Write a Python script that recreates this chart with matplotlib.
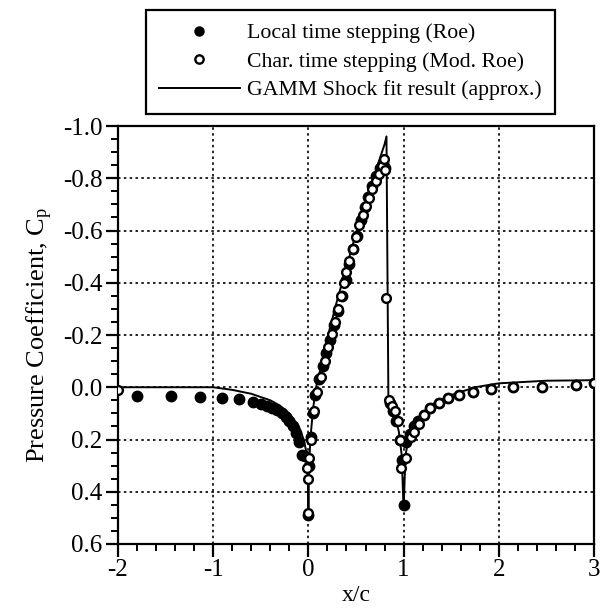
import numpy as np
import matplotlib
matplotlib.use("Agg")
import matplotlib.pyplot as plt
from matplotlib.lines import Line2D
from matplotlib.ticker import MultipleLocator, FormatStrFormatter

plt.rcParams['font.family'] = ['Liberation Serif', 'DejaVu Serif']
plt.rcParams['mathtext.fontset'] = 'custom'
plt.rcParams['mathtext.rm'] = 'Liberation Serif'
plt.rcParams['mathtext.it'] = 'Liberation Serif'

# GAMM shock fit curve (approx.)
gamm_x = [-2.0, -1.5, -1.0, -0.8, -0.6, -0.4, -0.3, -0.2, -0.1, -0.05, -0.02, -0.005,
          0.0, 0.005, 0.02, 0.05, 0.08, 0.12, 0.2, 0.3, 0.4, 0.5, 0.6, 0.7, 0.8, 0.82,
          0.84, 0.9, 0.95, 0.98, 1.0, 1.02, 1.05, 1.1, 1.2, 1.3, 1.5, 1.75, 2.0, 2.5, 3.0]
gamm_cp = [0.0, 0.0, 0.0, 0.01, 0.025, 0.05, 0.07, 0.1, 0.15, 0.2, 0.25, 0.33,
           0.5, 0.33, 0.2, 0.08, 0.0, -0.06, -0.19, -0.33, -0.46, -0.59, -0.71, -0.82, -0.93, -0.96,
           0.03, 0.09, 0.17, 0.26, 0.47, 0.26, 0.2, 0.15, 0.1, 0.065, 0.03, 0.0, -0.015, -0.025, -0.027]

# Local time stepping (Roe) - filled circles
roe_x = [-1.80, -1.44, -1.14, -0.91, -0.73, -0.585, -0.50, -0.44, -0.38, -0.33, -0.28,
         -0.24, -0.20, -0.16, -0.13, -0.10, -0.07, -0.04, 0.0,
         0.01, 0.03, 0.045, 0.07, 0.11, 0.15, 0.19, 0.23, 0.27, 0.31, 0.35, 0.39, 0.43,
         0.47, 0.51, 0.55, 0.59, 0.63, 0.67, 0.71, 0.75, 0.78, 0.80,
         0.86, 0.89, 0.92, 0.96, 0.98, 1.0, 1.03, 1.07, 1.11, 1.15, 1.21, 1.28, 1.37,
         1.47, 1.585, 1.73, 1.92, 2.15, 2.45, 2.81, 3.0]
roe_cp = [0.033, 0.033, 0.037, 0.04, 0.046, 0.056, 0.063, 0.07, 0.078, 0.088, 0.10,
          0.115, 0.13, 0.15, 0.175, 0.21, 0.26, 0.265, 0.49,
          0.30, 0.19, 0.10, 0.03, -0.03, -0.08, -0.13, -0.18, -0.24, -0.29, -0.35, -0.41, -0.47,
          -0.53, -0.58, -0.64, -0.69, -0.73, -0.77, -0.81, -0.84, -0.86, -0.84,
          0.06, 0.09, 0.13, 0.20, 0.28, 0.45, 0.21, 0.18, 0.15, 0.13, 0.107, 0.08, 0.062,
          0.043, 0.03, 0.018, 0.008, 0.0, 0.0, -0.01, -0.015]

# Characteristic time stepping (Mod. Roe) - open circles
mod_x = [-2.0, -0.01, 0.0, 0.0, 0.01, 0.03, 0.06, 0.09, 0.13, 0.17, 0.21, 0.25, 0.28,
         0.31, 0.34, 0.37, 0.40, 0.43, 0.47, 0.50, 0.53, 0.57, 0.60, 0.64, 0.67, 0.71,
         0.74, 0.77, 0.79, 0.80, 0.82, 0.85, 0.88, 0.91, 0.94, 0.96, 0.97, 1.02, 1.08,
         1.11, 1.16, 1.21, 1.28, 1.37, 1.47, 1.585, 1.73, 1.92, 2.15, 2.45, 2.81, 3.0]
mod_cp = [0.01, 0.31, 0.35, 0.48, 0.27, 0.20, 0.09, 0.02, -0.04, -0.10, -0.155, -0.205, -0.25,
          -0.30, -0.35, -0.40, -0.44, -0.485, -0.53, -0.575, -0.62, -0.66, -0.695, -0.725, -0.76, -0.79,
          -0.815, -0.845, -0.875, -0.83, -0.34, 0.05, 0.07, 0.09, 0.13, 0.20, 0.31, 0.27, 0.19,
          0.17, 0.14, 0.107, 0.08, 0.062, 0.043, 0.03, 0.018, 0.008, 0.0, 0.0, -0.01, -0.015]

fig = plt.figure(figsize=(6.07, 6.13), dpi=100)
ax = fig.add_axes([118 / 607, 1 - 544 / 613, 476 / 607, 418 / 613])

ax.plot(gamm_x, gamm_cp, color='black', lw=1.4, zorder=2)
ax.plot(roe_x, roe_cp, 'o', color='black', ms=7.5, zorder=3)
ax.plot(mod_x, mod_cp, 'o', mfc='white', mec='black', mew=1.7, ms=6.3, zorder=4)

ax.set_xlim(-2, 3)
ax.set_ylim(0.6, -1.0)
ax.xaxis.set_major_locator(MultipleLocator(1))
ax.xaxis.set_minor_locator(MultipleLocator(0.2))
ax.yaxis.set_major_locator(MultipleLocator(0.2))
ax.yaxis.set_minor_locator(MultipleLocator(0.05))
ax.yaxis.set_major_formatter(FormatStrFormatter('%.1f'))
ax.xaxis.set_major_formatter(FormatStrFormatter('%d'))
ax.tick_params(which='major', direction='out', length=9, width=1.6, labelsize=18, pad=2)
ax.tick_params(which='minor', direction='out', length=5, width=1.4)
ax.tick_params(top=False, right=False)
for sp in ax.spines.values():
    sp.set_linewidth(1.6)
ax.grid(True, which='major', linestyle=(0, (1.5, 2)), color='black', lw=1.2)

ax.set_xlabel('x/c', fontsize=17, labelpad=3)
ax.set_ylabel('Pressure Coefficient, C$_\\mathrm{p}$', fontsize=19, labelpad=6)

handles = [
    Line2D([], [], ls='none', marker='o', color='black', ms=6.5),
    Line2D([], [], ls='none', marker='o', mfc='white', mec='black', mew=1.7, ms=6),
    Line2D([], [], color='black', lw=1.4),
]
labels = ['Local time stepping (Roe)', 'Char. time stepping (Mod. Roe)',
          'GAMM Shock fit result (approx.)']
leg = fig.legend(handles, labels, loc='upper left', bbox_to_anchor=(146 / 607, 1 - 10 / 613),
                 fontsize=15.7, frameon=True, fancybox=False, framealpha=1, edgecolor='black',
                 handlelength=3.7, handletextpad=0.35, borderpad=0.6, labelspacing=0.38,
                 borderaxespad=0)
leg.get_frame().set_linewidth(1.6)

fig.savefig('out.png', dpi=100)
